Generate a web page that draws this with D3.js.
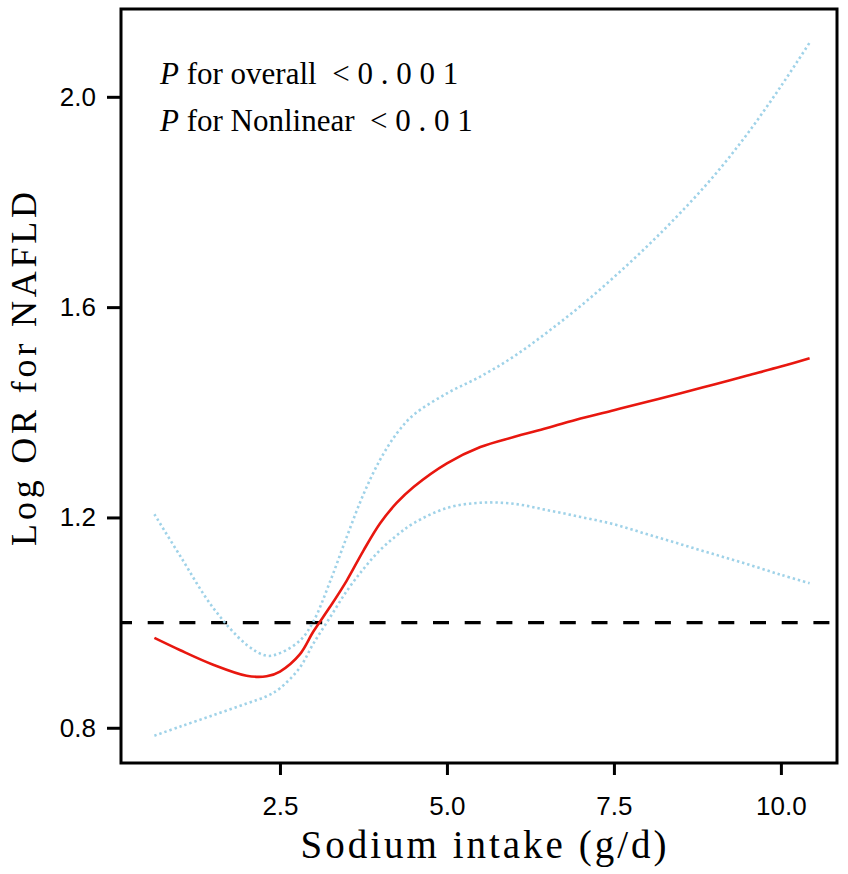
<!DOCTYPE html>
<html>
<head>
<meta charset="utf-8">
<script src="https://cdn.jsdelivr.net/npm/d3@7"></script>
<style>
  html, body { margin: 0; padding: 0; background: #fff; }
  svg { display: block; }
</style>
</head>
<body>
<svg id="chart" width="848" height="874"></svg>
<script>
// ---- data ----
const sodium = [0.62, 1.0, 1.5, 2.0, 2.3, 2.5, 2.8, 3.0, 3.25, 3.5, 3.75, 4.0, 4.25, 4.5, 5.0, 5.5, 6.0, 6.5, 7.0, 7.5, 8.0, 8.5, 9.0, 9.5, 10.0, 10.43];
const logOR  = [0.971, 0.948, 0.920, 0.899, 0.898, 0.907, 0.940, 0.983, 1.030, 1.080, 1.137, 1.189, 1.228, 1.258, 1.303, 1.334, 1.353, 1.370, 1.388, 1.404, 1.420, 1.436, 1.453, 1.470, 1.487, 1.503];
const upperCI = [1.206, 1.128, 1.028, 0.958, 0.937, 0.942, 0.966, 1.002, 1.078, 1.163, 1.244, 1.310, 1.360, 1.395, 1.436, 1.468, 1.506, 1.552, 1.602, 1.657, 1.716, 1.780, 1.850, 1.930, 2.020, 2.103];
const lowerCI = [0.785, 0.802, 0.824, 0.846, 0.860, 0.875, 0.915, 0.960, 1.010, 1.060, 1.102, 1.138, 1.166, 1.189, 1.218, 1.228, 1.226, 1.214, 1.201, 1.187, 1.168, 1.149, 1.130, 1.111, 1.091, 1.075];
const xTicks = [2.5, 5.0, 7.5, 10.0];
const yTicks = [0.8, 1.2, 1.6, 2.0];
const refValue = 1.0;
const xTitle = "Sodium intake (g/d)";
const yTitle = "Log OR for NAFLD";
const annotations = [
  { p: "P", text: " for overall  < 0 . 0 0 1" },
  { p: "P", text: " for Nonlinear  < 0 . 0 1" }
];

// ---- layout ----
const svg = d3.select("#chart");
const L = 121, R = 837, T = 9, B = 763;
const x = d3.scaleLinear().domain([0.12, 10.84]).range([L, R]);
const y = d3.scaleLinear().domain([0.733, 2.167]).range([B, T]);

svg.append("rect").attr("width", 848).attr("height", 874).attr("fill", "#fff");

const line = d3.line().curve(d3.curveCatmullRom.alpha(0.5));
const pts = vals => sodium.map((s, i) => [x(s), y(vals[i])]);

// reference dashed line
svg.append("line")
  .attr("x1", L).attr("x2", R)
  .attr("y1", y(refValue)).attr("y2", y(refValue))
  .attr("stroke", "#000").attr("stroke-width", 3.2)
  .attr("stroke-dasharray", "16,15.7").attr("stroke-dashoffset", 5);

// CI lines
[upperCI, lowerCI].forEach(v => {
  svg.append("path").attr("d", line(pts(v)))
    .attr("fill", "none").attr("stroke", "#9fd2e8")
    .attr("stroke-width", 2.6).attr("stroke-dasharray", "2.4,2.9");
});

// main curve
svg.append("path").attr("d", line(pts(logOR)))
  .attr("fill", "none").attr("stroke", "#e8170f").attr("stroke-width", 2.6);

// frame
svg.append("rect").attr("x", L).attr("y", T).attr("width", R - L).attr("height", B - T)
  .attr("fill", "none").attr("stroke", "#000").attr("stroke-width", 3);

// axes
const fmt = d3.format(".1f");
const gx = svg.append("g").attr("transform", `translate(0,${B})`)
  .call(d3.axisBottom(x).tickValues(xTicks).tickFormat(fmt).tickSize(12).tickPadding(22));
const gy = svg.append("g").attr("transform", `translate(${L},0)`)
  .call(d3.axisLeft(y).tickValues(yTicks).tickFormat(fmt).tickSize(14).tickPadding(11));
[gx, gy].forEach(g => {
  g.select(".domain").remove();
  g.selectAll(".tick line").attr("stroke", "#000").attr("stroke-width", 3);
  g.selectAll(".tick text").attr("fill", "#000")
    .style("font-family", "'Liberation Sans', Arial, sans-serif").style("font-size", "26px");
});

// axis titles
svg.append("text").attr("x", 485).attr("y", 858).attr("text-anchor", "middle")
  .style("font-family", "'Liberation Serif', 'Times New Roman', serif")
  .style("font-size", "39px").style("letter-spacing", "3px").text(xTitle);
svg.append("text").attr("transform", "translate(36,367) rotate(-90)").attr("text-anchor", "middle")
  .style("font-family", "'Liberation Serif', 'Times New Roman', serif")
  .style("font-size", "36px").style("letter-spacing", "3.8px").text(yTitle);

// annotation
annotations.forEach((a, i) => {
  const t = svg.append("text").attr("x", 160).attr("y", 84 + i * 47)
    .attr("xml:space", "preserve")
    .style("font-family", "'Liberation Serif', 'Times New Roman', serif")
    .style("font-size", "31px").style("white-space", "pre");
  t.append("tspan").style("font-style", "italic").text(a.p);
  t.append("tspan").text(a.text);
});
</script>
</body>
</html>
